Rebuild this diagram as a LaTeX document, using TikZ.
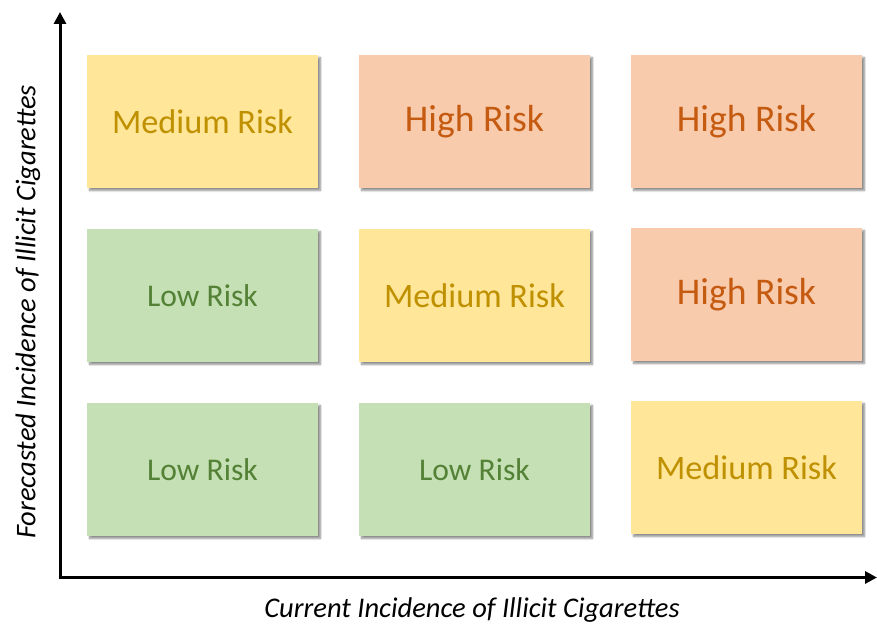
\documentclass[tikz,border=0pt]{standalone}
\usepackage{fontspec}
\setmainfont{Carlito}
\usetikzlibrary{positioning,arrows.meta,shadows.blur}

\definecolor{medfill}{HTML}{FFE699}
\definecolor{medtext}{HTML}{BF9000}
\definecolor{highfill}{HTML}{F8CBAD}
\definecolor{hightext}{HTML}{C55A11}
\definecolor{lowfill}{HTML}{C5E0B4}
\definecolor{lowtext}{HTML}{538135}

\tikzstyle{risk}=[minimum width=231pt, minimum height=133pt, inner sep=0pt,
  blur shadow={shadow xshift=2.5pt, shadow yshift=-2.5pt, shadow blur steps=6,
  shadow blur extra rounding=0pt, shadow opacity=45}]
\tikzstyle{medium}=[risk, fill=medfill, text=medtext, font=\fontsize{34.3}{40}\selectfont]
\tikzstyle{high}=[risk, fill=highfill, text=hightext, font=\fontsize{37.7}{40}\selectfont]
\tikzstyle{low}=[risk, fill=lowfill, text=lowtext, font=\fontsize{31.6}{40}\selectfont]
\tikzstyle{axis}=[line width=3pt, -{Triangle[length=12pt,width=12pt]}]
\tikzstyle{axislabel}=[font=\fontsize{28.5}{30}\selectfont\itshape]

\begin{document}
\begin{tikzpicture}[x=1pt, y=1pt, node distance=174pt and 272pt]
\useasboundingbox (0,0) rectangle (877,624);

% risk grid, top row first
\node (topleft)  [medium] at (202.5,502.5) {Medium Risk};
\node (topmid)   [high, right=of topleft.center, anchor=center] {High Risk};
\node (topright) [high, right=of topmid.center, anchor=center] {High Risk};

\node (midleft)  [low, below=of topleft.center, anchor=center] {Low Risk};
\node (midmid)   [medium, right=of midleft.center, anchor=center] {Medium Risk};
\node (midright) [high, right=of midmid.center, anchor=center, yshift=1pt] {High Risk};

\node (botleft)  [low, below=of midleft.center, anchor=center] {Low Risk};
\node (botmid)   [low, right=of botleft.center, anchor=center] {Low Risk};
\node (botright) [medium, right=of botmid.center, anchor=center, yshift=2pt] {Medium Risk};

% axes
\coordinate (origin) at (60,46.5);
\coordinate (xtip)   at (877,46.5);
\coordinate (ytop)   at (60,612);
\draw [axis] ([xshift=-1.5pt]origin) -- (xtip);
\draw [axis] ([yshift=-1.5pt]origin) -- (ytop);

\node (xlabel) [axislabel] at (472,14) {Current Incidence of Illicit Cigarettes};
\node (ylabel) [axislabel, rotate=90] at (28,312) {Forecasted Incidence of Illicit Cigarettes};

\end{tikzpicture}
\end{document}
